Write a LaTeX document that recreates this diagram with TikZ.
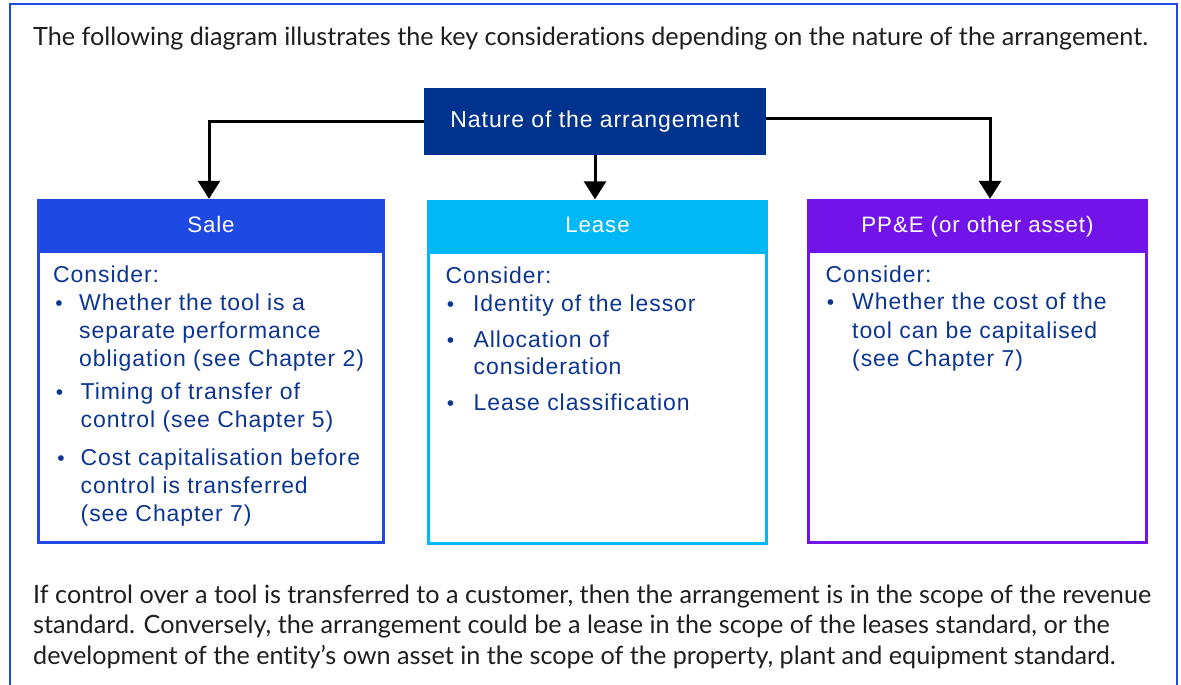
\documentclass[tikz,border=0pt]{standalone}
\usepackage{fontspec}
\setmainfont{Lato}[Ligatures=NoCommon]
\newfontfamily\boxfont{Liberation Sans}[LetterSpace=4.0]
\usetikzlibrary{arrows.meta}
\definecolor{frameblue}{HTML}{1E49E2}
\definecolor{natblue}{HTML}{00338D}
\definecolor{salecol}{HTML}{1E49E2}
\definecolor{leasecol}{HTML}{00B8F5}
\definecolor{ppecol}{HTML}{7213EA}
\definecolor{txtblue}{HTML}{0B3590}
\definecolor{paratext}{HTML}{1E1E1E}
\begin{document}
\begin{tikzpicture}[x=1pt,y=-1pt,
  para/.style={anchor=base west, inner sep=0pt, text=paratext, font=\fontsize{25.2pt}{30pt}\selectfont},
  natbox/.style={fill=natblue, text=white, inner sep=0pt, minimum width=342pt, minimum height=67pt,
    font=\boxfont\fontsize{23pt}{26pt}\selectfont, text height=16pt, text depth=5pt},
  headbox/.style={inner sep=0pt, text=white, minimum height=51pt,
    font=\boxfont\fontsize{22.3pt}{26pt}\selectfont, text height=16pt, text depth=1pt},
  bodybox/.style={line width=3pt, inner sep=0pt, anchor=north},
  ln/.style={anchor=base west, inner sep=0pt, text=txtblue, font=\boxfont\fontsize{23pt}{28pt}\selectfont},
  bul/.style={anchor=base, inner sep=0pt, text=txtblue, font=\boxfont\fontsize{21pt}{28pt}\selectfont},
  arr/.style={line width=3pt, -{Triangle[width=22pt,length=18pt]}},
]
\useasboundingbox (0,0) rectangle (1181,685);
% outer frame
\draw[frameblue, line width=2pt] (10,700) -- (10,4.5) -- (1177.3,4.5) -- (1177.3,700);

% top text
\node[para] (intro) at (33,46) {The following diagram illustrates the key considerations depending on the nature of the arrangement.};

% nature box
\node[natbox] (nature) at (595,121.5) {Nature of the arrangement};

% bodies
\node[bodybox, draw=salecol, minimum width=345pt, minimum height=291pt] (salebody) at (211,250) {};
\node[bodybox, draw=leasecol, minimum width=338pt, minimum height=291pt] (leasebody) at (597.5,251) {};
\node[bodybox, draw=ppecol, minimum width=338pt, minimum height=291pt] (ppebody) at (977.5,250) {};

% headers
\node[headbox, fill=salecol, minimum width=348pt] (salehead) at (211,224.5) {Sale};
\node[headbox, fill=leasecol, minimum width=341pt] (leasehead) at (597.5,225) {Lease};
\node[headbox, fill=ppecol, minimum width=341pt] (ppehead) at (977.5,224.5) {PP\&E (or other asset)};

% connectors
\draw[arr] (nature.west) -| ([xshift=-2pt]salehead.north);
\draw[arr] (nature.south) -- (nature.south |- leasehead.north);
\draw[arr] ([yshift=3.5pt]nature.east) -| ([xshift=12.5pt]ppehead.north);

% Sale text
\node[ln] (s0) at (53,282) {Consider:};
\node[bul] (sb1) at (59,310) {•};
\node[ln] (s1a) at (79,310) {Whether the tool is a};
\node[ln] (s1b) at (79,338) {separate performance};
\node[ln] (s1c) at (79,366) {obligation (see Chapter 2)};
\node[bul] (sb2) at (59.5,399) {•};
\node[ln] (s2a) at (80.5,399) {Timing of transfer of};
\node[ln] (s2b) at (80.5,427) {control (see Chapter 5)};
\node[bul] (sb3) at (61,465) {•};
\node[ln] (s3a) at (80.5,465) {Cost capitalisation before};
\node[ln] (s3b) at (80.5,493) {control is transferred};
\node[ln] (s3c) at (80.5,521) {(see Chapter 7)};

% Lease text
\node[ln] (l0) at (445.5,283) {Consider:};
\node[bul] (lb1) at (450.5,311) {•};
\node[ln] (l1) at (473,311) {Identity of the lessor};
\node[bul] (lb2) at (450.5,347) {•};
\node[ln] (l2a) at (473.5,347) {Allocation of};
\node[ln] (l2b) at (473.5,374) {consideration};
\node[bul] (lb3) at (450.5,410) {•};
\node[ln] (l3) at (473.5,410) {Lease classification};

% PP&E text
\node[ln] (p0) at (825.5,282) {Consider:};
\node[bul] (pb1) at (830.5,309) {•};
\node[ln] (p1a) at (852,309) {Whether the cost of the};
\node[ln] (p1b) at (852,338) {tool can be capitalised};
\node[ln] (p1c) at (852,366) {(see Chapter 7)};

% bottom paragraph
\node[para] (out1) at (33,603) {If control over a tool is transferred to a customer, then the arrangement is in the scope of the revenue};
\node[para] (out2) at (33,633.5) {standard. Conversely, the arrangement could be a lease in the scope of the leases standard, or the};
\node[para] (out3) at (33,664) {development of the entity’s own asset in the scope of the property, plant and equipment standard.};
\end{tikzpicture}
\end{document}
